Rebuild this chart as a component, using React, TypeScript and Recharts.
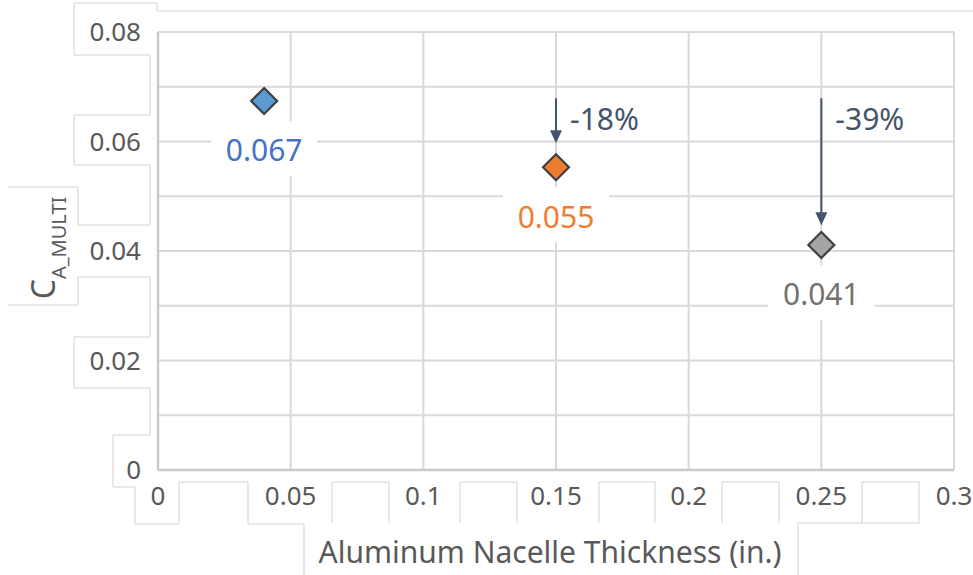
import React from "react";
import {
  ScatterChart,
  Scatter,
  XAxis,
  YAxis,
  CartesianGrid,
  ReferenceLine,
} from "recharts";

// values
const thickness = [0.04, 0.15, 0.25];
const caMulti = [0.0674, 0.0553, 0.0411];
const pointLabels = ["0.067", "0.055", "0.041"];
const markerFills = ["#5B9BD5", "#ED7D31", "#A5A5A5"];
const labelColors = ["#4472C4", "#ED7D31", "#767171"];

// reduction arrows (start / tip in data units)
const arrowX = [0.15, 0.25];
const arrowFrom = [0.0679, 0.0679];
const arrowTo = [0.0597, 0.0447];
const arrowLabels = ["-18%", "-39%"];

const xTicks = [0, 0.05, 0.1, 0.15, 0.2, 0.25, 0.3];
const yTicks = [0, 0.01, 0.02, 0.03, 0.04, 0.05, 0.06, 0.07, 0.08];
const yLabelTicks = [0, 0.02, 0.04, 0.06, 0.08];

const FONT = "'Noto Sans', 'Open Sans', sans-serif";
const TEXT = "#595959";
const ARROW = "#44546A";

const points = thickness.map((x, i) => ({
  x,
  y: caMulti[i],
  label: pointLabels[i],
  fill: markerFills[i],
  labelColor: labelColors[i],
}));

const DiamondWithLabel = (props: any) => {
  const { cx, cy, payload } = props;
  const r = 13;
  return (
    <g>
      <polygon
        points={`${cx},${cy - r} ${cx + r},${cy} ${cx},${cy + r} ${cx - r},${cy}`}
        fill={payload.fill}
        stroke="#404040"
        strokeWidth={2.2}
      />
      <rect x={cx - 53} y={cy + 20} width={106} height={55} fill="#fff" />
      <text
        x={cx}
        y={cy + 49}
        textAnchor="middle"
        dominantBaseline="central"
        fontSize={30}
        fontFamily={FONT}
        fill={payload.labelColor}
      >
        {payload.label}
      </text>
    </g>
  );
};

const arrowShape = (text: string) => (props: any) => {
  const { x1, y1, x2, y2 } = props;
  const head = 13;
  return (
    <g>
      <line x1={x1} y1={y1} x2={x2} y2={y2 - head + 1} stroke={ARROW} strokeWidth={2} />
      <polygon points={`${x2 - 6},${y2 - head} ${x2 + 6},${y2 - head} ${x2},${y2}`} fill={ARROW} />
      <text
        x={x1 + 14}
        y={y1 + 20}
        dominantBaseline="central"
        fontSize={30}
        fontFamily={FONT}
        fill={ARROW}
      >
        {text}
      </text>
    </g>
  );
};

// the faint cell borders left around the labels in the original picture
const Frames = () => (
  <svg width={973} height={575} style={{ position: "absolute", left: 0, top: 0 }}>
    <g fill="none" stroke="#D3D3D3" strokeWidth={1}>
      <path d="M973 11 H157 V3 H74 V55 H150 V115 H74 V165 H150 V225 H78 V187 H8" />
      <path d="M8 305 H78 V277 H150 V337 H74 V388 H150 V435 H113 V487 H135 V524 H179 V482 H248 V524 H304 V575" />
      <path d="M332 523 V482 H389 V523" />
      <path d="M460 523 V482 H517 V523" />
      <path d="M599 523 V482 H655 V523" />
      <path d="M722 523 V482 H779 V523" />
      <path d="M862 523 V482 H919 V523 H798 V575" />
    </g>
  </svg>
);

export default function App() {
  return (
    <div style={{ position: "absolute", left: 0, top: 0, width: 973, height: 575, background: "#fff" }}>
      <Frames />
      <div style={{ position: "absolute", left: 0, top: 0 }}>
        <ScatterChart width={973} height={575} margin={{ top: 32, right: 19, left: 0, bottom: 0 }}>
          <CartesianGrid stroke="#D9D9D9" strokeWidth={2} />
          <XAxis
            type="number"
            dataKey="x"
            domain={[0, 0.3]}
            ticks={xTicks}
            height={105}
            tickSize={0}
            tickMargin={17}
            axisLine={{ stroke: "#C9C9C9", strokeWidth: 2.5 }}
            tick={{ fill: TEXT, fontSize: 26, fontFamily: FONT }}
            label={{
              content: (p: any) => {
                const vb = p.viewBox;
                return (
                  <text
                    x={vb.x + vb.width / 2 - 6}
                    y={551}
                    textAnchor="middle"
                    dominantBaseline="central"
                    fontSize={30}
                    fontFamily={FONT}
                    fill={TEXT}
                  >
                    Aluminum Nacelle Thickness (in.)
                  </text>
                );
              },
            }}
          />
          <YAxis
            type="number"
            dataKey="y"
            domain={[0, 0.08]}
            ticks={yTicks}
            width={158}
            tickSize={0}
            tickMargin={17}
            axisLine={{ stroke: "#C9C9C9", strokeWidth: 2.5 }}
            tick={{ fill: TEXT, fontSize: 26, fontFamily: FONT }}
            tickFormatter={(v: number) =>
              yLabelTicks.some((t) => Math.abs(t - v) < 1e-9) ? String(v) : ""
            }
            label={{
              content: (p: any) => {
                const vb = p.viewBox;
                const cx = 55;
                const cy = vb.y + vb.height / 2 - 3;
                return (
                  <text
                    x={cx}
                    y={cy}
                    transform={`rotate(-90, ${cx}, ${cy})`}
                    textAnchor="middle"
                    fontSize={32}
                    fontFamily={FONT}
                    fill={TEXT}
                  >
                    C
                    <tspan fontSize={20} dy={11}>
                      A_MULTI
                    </tspan>
                  </text>
                );
              },
            }}
          />
          {arrowX.map((x, i) => (
            <ReferenceLine
              key={`arrow-${i}`}
              segment={[
                { x, y: arrowFrom[i] },
                { x, y: arrowTo[i] },
              ]}
              shape={arrowShape(arrowLabels[i])}
            />
          ))}
          <Scatter data={points} shape={DiamondWithLabel} isAnimationActive={false} />
        </ScatterChart>
      </div>
    </div>
  );
}
